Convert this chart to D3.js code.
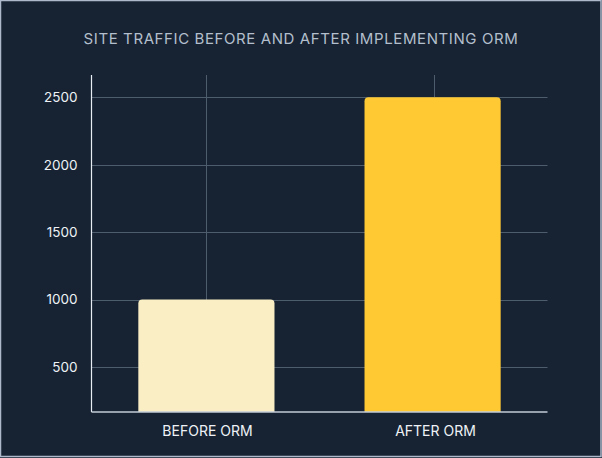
<!DOCTYPE html>
<html>
<head>
<meta charset="utf-8">
<script src="https://cdn.jsdelivr.net/npm/d3@7"></script>
<style>
  html, body { margin: 0; padding: 0; background: #172333; }
  svg { display: block; }
</style>
</head>
<body>
<svg id="chart" width="602" height="458"></svg>
<script>
const title = "SITE TRAFFIC BEFORE AND AFTER IMPLEMENTING ORM";
const categories = ["BEFORE ORM", "AFTER ORM"];
const values = [1000, 2500];
const barColors = ["#f9eec4", "#fec933"];
const yTicks = [500, 1000, 1500, 2000, 2500];

const W = 602, H = 458;
const plot = { left: 91.5, right: 547.5, top: 75, bottom: 412 };
const svg = d3.select("#chart");

svg.append("rect").attr("x", 0.5).attr("y", 0.5).attr("width", W - 1.5).attr("height", H - 2)
  .attr("fill", "#172333").attr("stroke", "#aebacb").attr("stroke-width", 1.5);

const y = d3.scaleLinear().domain([166, 2665]).range([plot.bottom, plot.top]);
const xBand = d3.scaleBand().domain(categories).range([plot.left, plot.right])
  .paddingInner(0.398).paddingOuter(0.207);
const xPoint = d3.scalePoint().domain(categories).range([plot.left, plot.right]).padding(0.5);

// horizontal grid
svg.append("g").selectAll("line").data(yTicks).join("line")
  .attr("x1", plot.left).attr("x2", plot.right)
  .attr("y1", d => Math.round(y(d)) + 0.5).attr("y2", d => Math.round(y(d)) + 0.5)
  .attr("stroke", "#4d5d6e").attr("stroke-width", 1);

// vertical grid
svg.append("g").selectAll("line").data(categories).join("line")
  .attr("x1", d => Math.round(xPoint(d)) + 0.5).attr("x2", d => Math.round(xPoint(d)) + 0.5)
  .attr("y1", plot.top).attr("y2", plot.bottom)
  .attr("stroke", "#4d5d6e").attr("stroke-width", 1);

// bars (rounded top corners)
function topRounded(x, yTop, w, h, r) {
  return `M${x},${yTop + h}V${yTop + r}Q${x},${yTop} ${x + r},${yTop}H${x + w - r}Q${x + w},${yTop} ${x + w},${yTop + r}V${yTop + h}Z`;
}
svg.append("g").selectAll("path").data(categories).join("path")
  .attr("d", (d, i) => topRounded(xBand(d), y(values[i]), xBand.bandwidth(), plot.bottom - y(values[i]), 4))
  .attr("fill", (d, i) => barColors[i]);

// y axis
const yAxis = d3.axisLeft(y).tickValues(yTicks).tickSize(0).tickPadding(14).tickFormat(d3.format("d"));
const gy = svg.append("g").attr("transform", `translate(${plot.left},0)`).call(yAxis);
gy.select(".domain").remove();
gy.selectAll("text").attr("fill", "#eef2f6").attr("font-family", "Inter, sans-serif").attr("font-size", 13.5);
svg.append("line").attr("x1", plot.left).attr("x2", plot.left).attr("y1", plot.top).attr("y2", plot.bottom)
  .attr("stroke", "#e8edf3").attr("stroke-width", 1.2);

// x axis
const xAxis = d3.axisBottom(xPoint).tickSize(0).tickPadding(14);
const gx = svg.append("g").attr("transform", `translate(1.5,${plot.bottom})`).call(xAxis);
gx.select(".domain").remove();
gx.selectAll("text").attr("fill", "#eef2f6").attr("font-family", "Inter, sans-serif").attr("font-size", 14);
svg.append("line").attr("x1", plot.left).attr("x2", plot.right).attr("y1", plot.bottom).attr("y2", plot.bottom)
  .attr("stroke", "#c3cdd9").attr("stroke-width", 1.5);

// title
svg.append("text").attr("x", 301).attr("y", 44)
  .attr("text-anchor", "middle").attr("fill", "#b3bfcc")
  .attr("font-family", "Inter, sans-serif").attr("font-size", 15).attr("letter-spacing", 0.6)
  .text(title);
</script>
</body>
</html>
